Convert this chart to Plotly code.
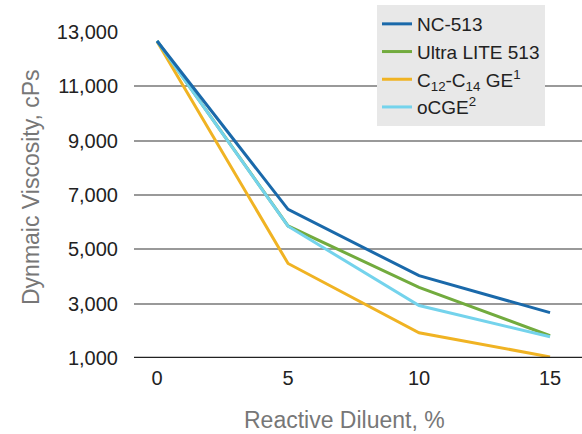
import plotly.graph_objects as go

diluent_pct = [0, 5, 10, 15]
nc513 = [12670, 6470, 4030, 2670]
ultra_lite_513 = [12670, 5860, 3600, 1820]
c12_c14_ge = [12650, 4480, 1930, 1040]
ocge = [12670, 5850, 2930, 1780]

y_ticks = [1000, 3000, 5000, 7000, 9000, 11000, 13000]
x_ticks = [0, 5, 10, 15]

series = [
    ("C<sub>12</sub>-C<sub>14</sub> GE<sup>1</sup>", c12_c14_ge, "#f0b323", 3),
    ("Ultra LITE 513", ultra_lite_513, "#72ab3e", 2),
    ("oCGE<sup>2</sup>", ocge, "#74d3ec", 4),
    ("NC-513", nc513, "#1a69aa", 1),
]

fig = go.Figure()
for name, vals, color, rank in series:
    fig.add_trace(go.Scatter(
        x=diluent_pct, y=vals, name=name, mode="lines",
        line=dict(color=color, width=3), legendrank=rank,
    ))

W, H = 582, 434
L, R, T, B = 134, 0, 32, 76
pw = W - L - R
ph = H - T - B

fig.update_layout(
    width=W, height=H,
    margin=dict(l=L, r=R, t=T, b=B),
    paper_bgcolor="white", plot_bgcolor="white",
    font=dict(family="Liberation Sans, Arial, sans-serif", size=20, color="#222"),
    showlegend=True,
    legend=dict(
        x=(377 - L) / pw, y=(T + ph - 5) / ph, xanchor="left", yanchor="top",
        bgcolor="#e8e8e8", font=dict(size=19, color="#222"),
        itemwidth=30, tracegroupgap=0,
    ),
    xaxis=dict(
        range=[-0.88, 16.22], tickvals=x_ticks, showgrid=False, zeroline=False,
        showline=False, ticks="", tickfont=dict(size=20, color="#222"),
        ticklabelstandoff=6,
    ),
    yaxis=dict(
        range=[1000, 13000], tickvals=y_ticks, tickformat=",", showgrid=True,
        gridcolor="#999", gridwidth=1.5, zeroline=False, showline=False, ticks="",
        tickfont=dict(size=20, color="#222"), ticklabelstandoff=15,
    ),
    shapes=[dict(type="line", xref="paper", yref="y", x0=0, x1=1, y0=1000, y1=1000,
                 line=dict(color="#222", width=2.5))],
    annotations=[
        dict(text="Reactive Diluent, %", xref="paper", yref="paper",
             x=(344 - L) / pw, y=(T + ph - 420) / ph, xanchor="center", yanchor="middle",
             showarrow=False, font=dict(size=23, color="#777")),
        dict(text="Dynmaic Viscosity, cPs", xref="paper", yref="paper",
             x=(31 - L) / pw, y=(T + ph - 187) / ph, xanchor="center", yanchor="middle",
             textangle=-90, showarrow=False, font=dict(size=23, color="#777")),
    ],
)

fig.write_html("out.html")
